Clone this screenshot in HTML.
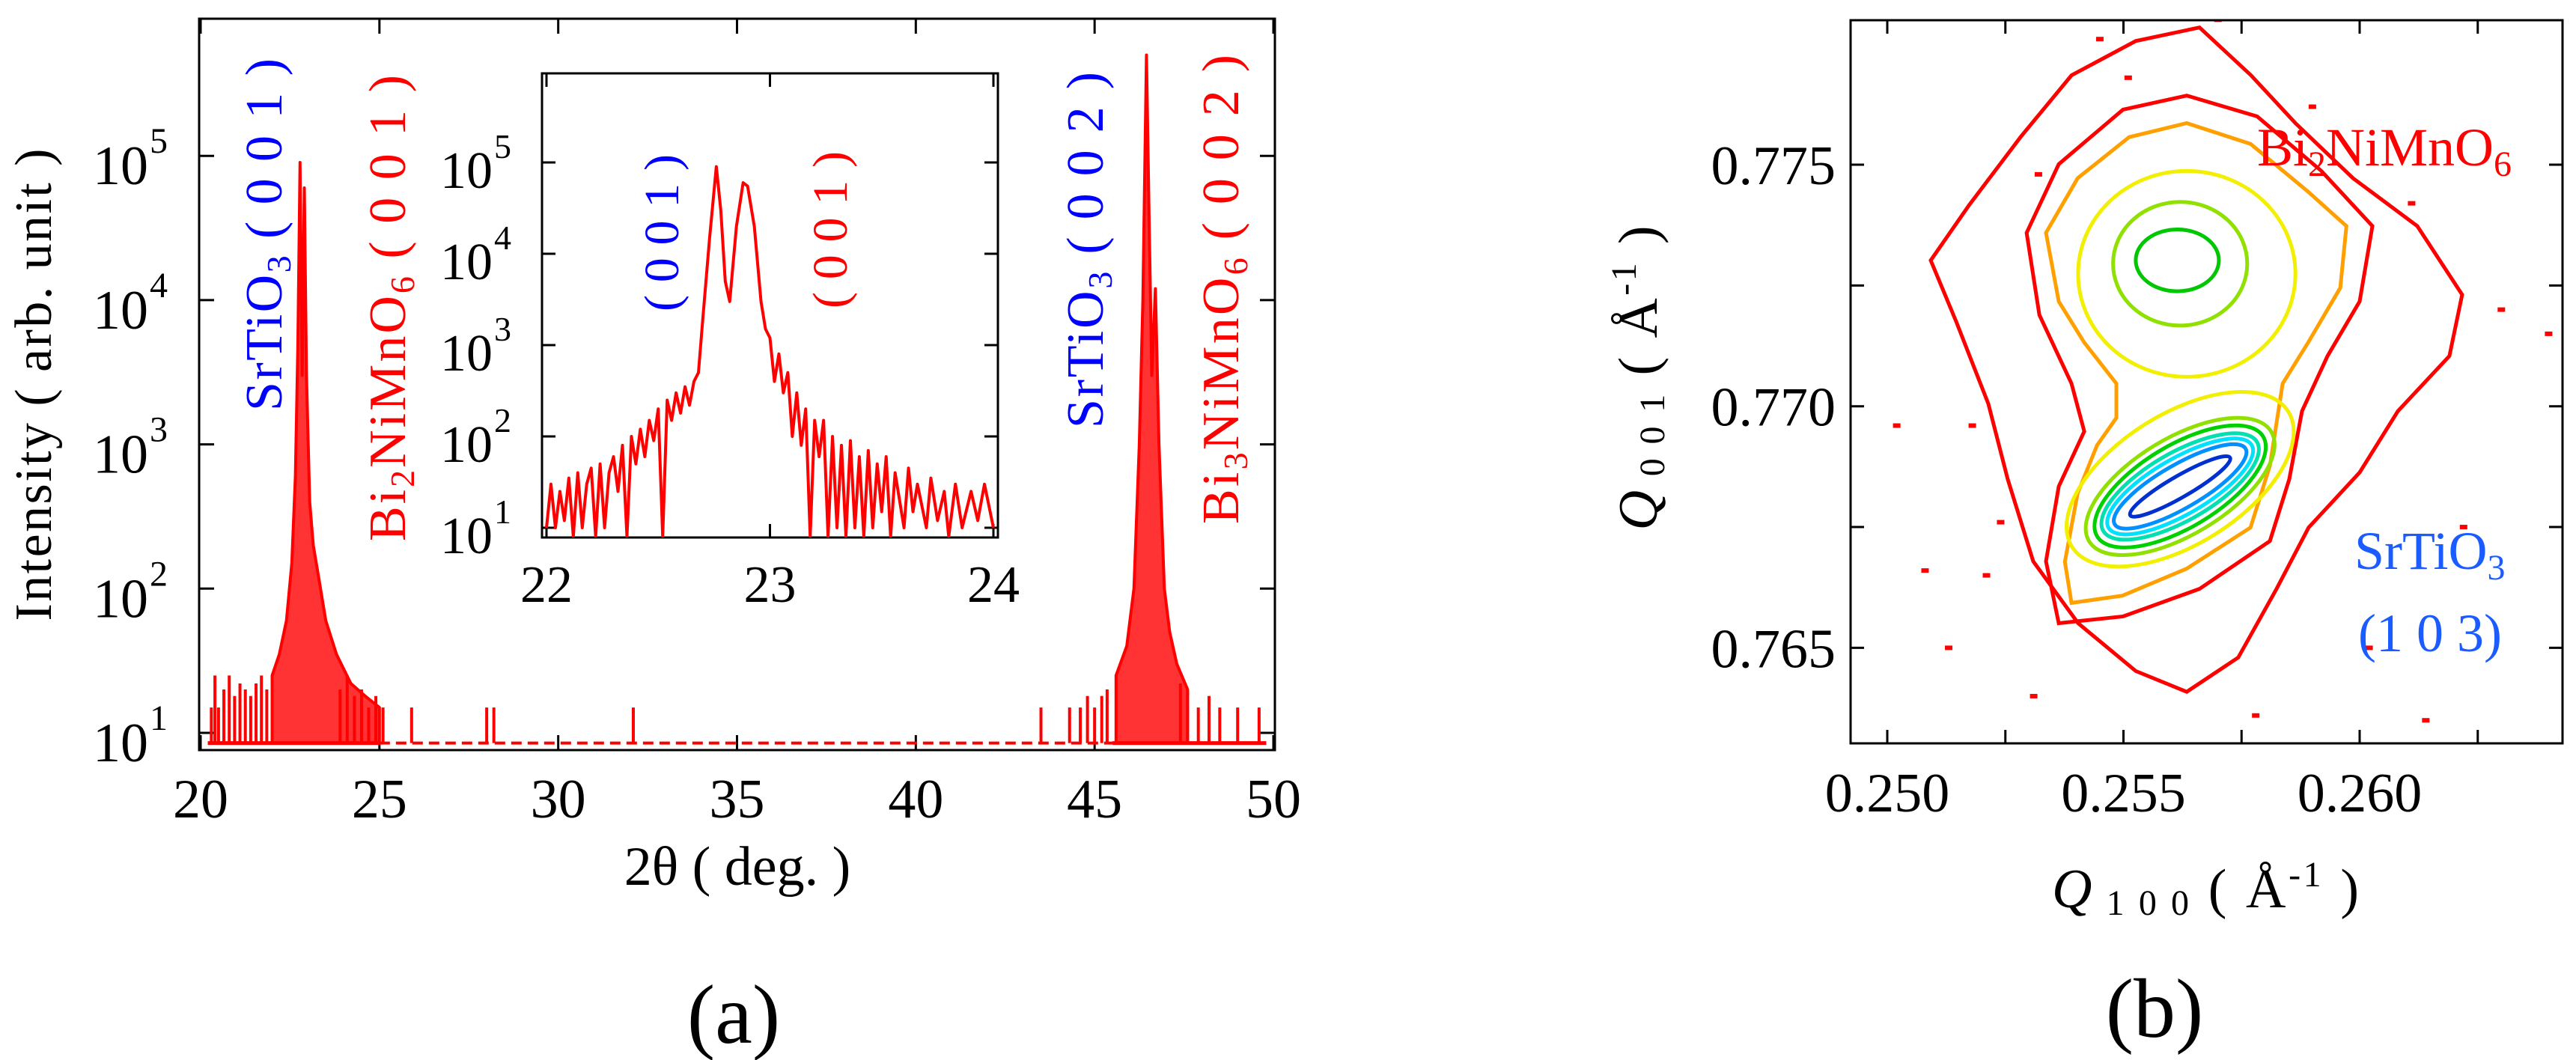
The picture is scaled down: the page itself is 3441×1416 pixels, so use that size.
<!DOCTYPE html>
<html><head><meta charset="utf-8"><style>
html,body{margin:0;padding:0;background:#fff;}
svg{display:block;font-family:"Liberation Serif",serif;}
</style></head><body>
<svg id="fig" width="3441" height="1416" viewBox="0 0 3441 1416" xmlns="http://www.w3.org/2000/svg">
<defs>
<clipPath id="clipA"><rect x="266" y="25" width="1437" height="977"/></clipPath>
<clipPath id="clipI"><rect x="724" y="98" width="609" height="620"/></clipPath>
<clipPath id="clipB"><rect x="2472" y="27" width="951" height="966"/></clipPath>
</defs>
<g id="panelA">
<rect x="266" y="25" width="1437" height="977" fill="none" stroke="#000" stroke-width="3"/>
<g id="aTicks"></g>
<g id="aData" clip-path="url(#clipA)"></g>
<text x="68" y="514" font-size="70" text-anchor="middle" textLength="631" lengthAdjust="spacing" transform="rotate(-90 68 514)">Intensity ( arb. unit )</text>
<text x="985" y="1182" font-size="74" text-anchor="middle">2θ ( deg. )</text>
<text x="980" y="1393" font-size="112" text-anchor="middle">(a)</text>
<text x="376" y="549" font-size="70" fill="#0000ff" textLength="471" lengthAdjust="spacing" transform="rotate(-90 376 549)">SrTiO<tspan font-size="46" dy="12">3</tspan><tspan dy="-12"> ( 0 0 1 )</tspan></text>
<text x="541" y="723" font-size="70" fill="#ff0000" textLength="623" lengthAdjust="spacing" transform="rotate(-90 541 723)">Bi<tspan font-size="46" dy="12">2</tspan><tspan dy="-12">NiMnO</tspan><tspan font-size="46" dy="12">6</tspan><tspan dy="-12"> ( 0 0 1 )</tspan></text>
<text x="1473" y="572" font-size="70" fill="#0000ff" textLength="476" lengthAdjust="spacing" transform="rotate(-90 1473 572)">SrTiO<tspan font-size="46" dy="12">3</tspan><tspan dy="-12"> ( 0 0 2 )</tspan></text>
<text x="1654" y="700" font-size="70" fill="#ff0000" textLength="627" lengthAdjust="spacing" transform="rotate(-90 1654 700)">Bi<tspan font-size="46" dy="12">3</tspan><tspan dy="-12">NiMnO</tspan><tspan font-size="46" dy="12">6</tspan><tspan dy="-12"> ( 0 0 2 )</tspan></text>
<g>
<rect x="724" y="98" width="609" height="620" fill="#fff" stroke="#000" stroke-width="3"/>
<g id="iTicks"></g>
<g id="iData" clip-path="url(#clipI)"></g>
<text x="906" y="416" font-size="66" fill="#0000ff" textLength="210" lengthAdjust="spacing" transform="rotate(-90 906 416)">( 0 0 1 )</text>
<text x="1131" y="412" font-size="66" fill="#ff0000" textLength="210" lengthAdjust="spacing" transform="rotate(-90 1131 412)">( 0 0 1 )</text>
</g>
</g>
<g id="panelB">
<g id="bData" clip-path="url(#clipB)"></g>
<rect x="2472" y="27" width="951" height="966" fill="none" stroke="#000" stroke-width="3"/>
<g id="bTicks"></g>
<text x="2213" y="505" font-size="74" text-anchor="middle" textLength="407" lengthAdjust="spacing" transform="rotate(-90 2213 505)"><tspan font-style="italic">Q</tspan><tspan font-size="48" dy="10"> 0 0 1</tspan><tspan dy="-10"> ( Å</tspan><tspan font-size="48" dy="-28">-1</tspan><tspan dy="28"> )</tspan></text>
<text x="2946" y="1212" font-size="74" text-anchor="middle" textLength="410" lengthAdjust="spacing"><tspan font-style="italic">Q</tspan><tspan font-size="48" dy="10"> 1 0 0</tspan><tspan dy="-10"> ( Å</tspan><tspan font-size="48" dy="-28">-1</tspan><tspan dy="28"> )</tspan></text>
<text x="2878" y="1385" font-size="112" text-anchor="middle">(b)</text>
<text x="3015" y="221" font-size="72" fill="#ff0000">Bi<tspan font-size="48" dy="14">2</tspan><tspan dy="-14">NiMnO</tspan><tspan font-size="48" dy="14">6</tspan></text>
<text x="3145" y="760" font-size="72" fill="#1a5cff">SrTiO<tspan font-size="48" dy="14">3</tspan></text>
<text x="3150" y="870" font-size="72" fill="#1a5cff">(1 0 3)</text>
</g>
</svg>
<script>
// ---------- Panel (a) data ----------
const peak1X=[22.0,22.2,22.4,22.55,22.65,22.72,22.78,22.84,22.9,22.96,23.05,23.15,23.3,23.5,23.8,24.2,24.6,25.0];
const peak1I=[25,35,60,150,600,5000,90000,3000,60000,3000,400,200,120,60,35,22,18,15];
const peak2X=[45.6,45.9,46.1,46.25,46.35,46.45,46.53,46.6,46.7,46.8,46.95,47.1,47.3,47.6];
const peak2I=[25,40,100,1000,10000,500000,30000,3000,12000,1000,100,50,30,20];
const spikeX=[20.3,20.4,20.5,20.65,20.8,20.95,21.1,21.25,21.4,21.55,21.7,21.85,23.9,24.1,24.3,24.5,24.7,24.9,25.1,25.9,28.0,28.2,32.1,43.5,44.3,44.6,44.8,45.0,45.2,45.35,47.4,47.6,47.9,48.2,48.5,49.0,49.6];
const spikeI=[15,25,15,20,25,18,22,20,18,22,25,20,20,25,18,20,15,18,15,15,15,15,15,15,15,15,18,15,18,20,22,20,15,18,15,15,15];
const baseI=8.5;
const decades=[1,2,3,4,5];
const xTicksA=[20,25,30,35,40,45,50];
// inset
const insetX=[22.0,22.02,22.04,22.06,22.08,22.1,22.12,22.14,22.16,22.18,22.2,22.22,22.24,22.26,22.28,22.3,22.32,22.34,22.36,22.38,22.4,22.42,22.44,22.46,22.48,22.5,22.52,22.54,22.56,22.58,22.6,22.62,22.64,22.66,22.68,22.7,22.73,22.76,22.78,22.8,22.82,22.85,22.88,22.9,22.93,22.96,22.98,23.0,23.02,23.04,23.06,23.08,23.1,23.12,23.14,23.16,23.18,23.2,23.22,23.24,23.26,23.28,23.3,23.32,23.34,23.36,23.38,23.4,23.42,23.44,23.46,23.48,23.5,23.52,23.54,23.56,23.6,23.62,23.64,23.66,23.7,23.72,23.75,23.78,23.8,23.83,23.86,23.9,23.93,23.96,24.0];
const insetI=[10,30,10,25,12,35,8,40,10,30,45,8,50,10,40,60,25,80,8,100,50,120,60,150,90,200,8,250,150,300,180,350,220,400,500,2000,15000,90000,30000,5000,3000,20000,60000,55000,20000,3000,1500,1200,400,800,300,500,100,300,80,200,8,150,60,150,8,100,10,80,8,90,10,60,8,70,10,50,15,60,8,40,10,45,15,30,10,35,12,25,8,30,10,25,12,30,10];
const insetXT=[22,23,24];
// ---------- Panel (b) data ----------
const bXTicks=[0.250,0.2525,0.255,0.2575,0.260,0.2625];
const bXLabels=["0.250","","0.255","","0.260",""];
const bYTicks=[0.765,0.7675,0.770,0.7725,0.775];
const bYLabels=["0.765","","0.770","","0.775"];
const redOuterX=[0.25092,0.25173,0.25282,0.25390,0.25526,0.25661,0.25770,0.25864,0.25986,0.26122,0.26217,0.26190,0.26081,0.26000,0.25892,0.25824,0.25743,0.25634,0.25526,0.25404,0.25309,0.25255,0.25214,0.25146];
const redOuterY=[0.77302,0.77416,0.77557,0.77685,0.77756,0.77784,0.77685,0.77586,0.77472,0.77373,0.77231,0.77104,0.76990,0.76863,0.76749,0.76622,0.76480,0.76409,0.76452,0.76551,0.76679,0.76849,0.77005,0.77175];
const redInnerX=[0.25295,0.25363,0.25499,0.25634,0.25783,0.25919,0.26027,0.26000,0.25932,0.25878,0.25851,0.25810,0.25661,0.25499,0.25363,0.25336,0.25363,0.25417,0.25390,0.25322];
const redInnerY=[0.77359,0.77501,0.77614,0.77643,0.77600,0.77487,0.77373,0.77217,0.77104,0.76990,0.76849,0.76721,0.76622,0.76565,0.76551,0.76679,0.76834,0.76948,0.77047,0.77189];
const orangeX=[0.25336,0.25403,0.25512,0.25634,0.25769,0.25891,0.25972,0.25959,0.25891,0.25837,0.25810,0.25769,0.25634,0.25498,0.25390,0.25376,0.25403,0.25444,0.25485,0.25485,0.25417,0.25363];
const orangeY=[0.77359,0.77472,0.77557,0.77586,0.77543,0.77444,0.77373,0.77245,0.77132,0.77047,0.76877,0.76749,0.76664,0.76608,0.76593,0.76678,0.76820,0.76919,0.76976,0.77047,0.77132,0.77217];
const ellCX=[0.25634,0.25620,0.25614,0.25620,0.25620,0.25620,0.25620,0.25620,0.25620,0.25620];
const ellCY=[0.77274,0.77295,0.77302,0.76849,0.76834,0.76834,0.76834,0.76834,0.76834,0.76834];
const ellRA=[0.00230,0.00142,0.00088,0.00270,0.00225,0.00205,0.00188,0.00175,0.00160,0.00122];
const ellRB=[0.00213,0.00128,0.00064,0.00135,0.00100,0.00085,0.00070,0.00058,0.00045,0.00022];
const ellRot=[0,0,0,-32,-31,-31,-30,-30,-30,-30];
const ellCol=["#f2f000","#90e000","#00c800","#f2f000","#90e000","#00d000","#00e0b0","#00e0ff","#0090ff","#0030d0"];
const specksX=[0.2502,0.2508,0.2513,0.2518,0.2521,0.2524,0.2531,0.2578,0.2602,0.2614,0.2622,0.2630,0.2640,0.2611,0.2590,0.2545,0.2551,0.2570,0.2532];
const specksY=[0.7696,0.7666,0.7650,0.7696,0.7665,0.7676,0.7640,0.7636,0.7650,0.7635,0.7675,0.7720,0.7715,0.7742,0.7762,0.7776,0.7768,0.7780,0.7748];

const NS="http://www.w3.org/2000/svg";
function mk(tag,attrs,parent){const e=document.createElementNS(NS,tag);for(const k in attrs)e.setAttribute(k,attrs[k]);parent.appendChild(e);return e;}
const xA=v=>268+(v-20)*(1701-268)/30;
const yA=I=>979-(Math.log10(I)-1)*192.7;
const xI=v=>730+(v-22)*(1327-730)/2;
const yI=I=>705-(Math.log10(I)-1)*122;
const xB=q=>2521+(q-0.25)*63100;
const yB=q=>220-(q-0.775)*64540;

const aT=document.getElementById('aTicks');
xTicksA.forEach(v=>{
  const x=xA(v);
  const t1=mk('line',{x1:x,y1:1002,x2:x,y2:982,stroke:'#000','stroke-width':3},aT);
  
  
  const t2=mk('line',{x1:x,y1:25,x2:x,y2:45,stroke:'#000','stroke-width':3},aT);
  
  
  const lb=mk('text',{x:x,y:1092,'font-size':74,'text-anchor':'middle'},aT);
  lb.textContent=v;
  
  
});
decades.forEach(d=>{
  const y=yA(Math.pow(10,d));
  const t1=mk('line',{x1:266,y1:y,x2:286,y2:y,stroke:'#000','stroke-width':3},aT);
  
  
  const t2=mk('line',{x1:1703,y1:y,x2:1683,y2:y,stroke:'#000','stroke-width':3},aT);
  
  
  const lb=mk('text',{x:198,y:y+38,'font-size':74,'text-anchor':'end'},aT);
  lb.textContent='10';
  
  
  const sp=mk('text',{x:200,y:y-4,'font-size':48},aT);
  sp.textContent=d;
  
  
});
const aD=document.getElementById('aData');
function peakPoly(xs,is,name){
  let pts=xA(xs[0])+','+yA(baseI)+' ';
  xs.forEach((v,i)=>{pts+=xA(v)+','+yA(is[i])+' ';});
  pts+=xA(xs[xs.length-1])+','+yA(baseI);
  const p=mk('polygon',{points:pts,fill:'#ff0000','fill-opacity':0.8,stroke:'#ff0000','stroke-width':4,'stroke-linejoin':'round'},aD);
  
  
}
peakPoly(peak1X,peak1I,'peak-001');
peakPoly(peak2X,peak2I,'peak-002');
const bl1=mk('line',{x1:xA(20.2),y1:yA(baseI),x2:xA(25),y2:yA(baseI),stroke:'#ff0000','stroke-width':5},aD);


const bl2=mk('line',{x1:xA(25),y1:yA(baseI),x2:xA(45.5),y2:yA(baseI),stroke:'#ff0000','stroke-width':4,'stroke-dasharray':'14 8'},aD);


const bl3=mk('line',{x1:xA(45.5),y1:yA(baseI),x2:xA(49.8),y2:yA(baseI),stroke:'#ff0000','stroke-width':5},aD);


spikeX.forEach((v,i)=>{
  const s=mk('line',{x1:xA(v),y1:yA(baseI),x2:xA(v),y2:yA(spikeI[i]),stroke:'#ff0000','stroke-width':4},aD);
  
  
});
const iT=document.getElementById('iTicks');
insetXT.forEach(v=>{
  const x=xI(v);
  const t1=mk('line',{x1:x,y1:718,x2:x,y2:700,stroke:'#000','stroke-width':3},iT);
  
  
  const t2=mk('line',{x1:x,y1:98,x2:x,y2:116,stroke:'#000','stroke-width':3},iT);
  
  
  const lb=mk('text',{x:x,y:804,'font-size':70,'text-anchor':'middle'},iT);
  lb.textContent=v;
  
  
});
decades.forEach(d=>{
  const y=yI(Math.pow(10,d));
  const t1=mk('line',{x1:724,y1:y,x2:742,y2:y,stroke:'#000','stroke-width':3},iT);
  
  
  const t2=mk('line',{x1:1333,y1:y,x2:1315,y2:y,stroke:'#000','stroke-width':3},iT);
  
  
  const lb=mk('text',{x:658,y:y+34,'font-size':70,'text-anchor':'end'},iT);
  lb.textContent='10';
  
  
  const sp=mk('text',{x:660,y:y-6,'font-size':46},iT);
  sp.textContent=d;
  
  
});
const iD=document.getElementById('iData');
const ip=mk('polyline',{points:insetX.map((v,i)=>xI(v)+','+yI(insetI[i])).join(' '),fill:'none',stroke:'#ff0000','stroke-width':4,'stroke-linejoin':'round'},iD);


const bT=document.getElementById('bTicks');
bXTicks.forEach((v,i)=>{
  const x=xB(v);
  const t1=mk('line',{x1:x,y1:993,x2:x,y2:975,stroke:'#000','stroke-width':3},bT);
  
  
  const t2=mk('line',{x1:x,y1:27,x2:x,y2:45,stroke:'#000','stroke-width':3},bT);
  
  
  if(bXLabels[i]){
    const lb=mk('text',{x:x,y:1084,'font-size':74,'text-anchor':'middle'},bT);
    lb.textContent=bXLabels[i];
    
    
  }
});
bYTicks.forEach((v,i)=>{
  const y=yB(v);
  const t1=mk('line',{x1:2472,y1:y,x2:2490,y2:y,stroke:'#000','stroke-width':3},bT);
  
  
  const t2=mk('line',{x1:3423,y1:y,x2:3405,y2:y,stroke:'#000','stroke-width':3},bT);
  
  
  if(bYLabels[i]){
    const lb=mk('text',{x:2452,y:y+26,'font-size':74,'text-anchor':'end'},bT);
    lb.textContent=bYLabels[i];
    
    
  }
});
const bD=document.getElementById('bData');
function ring(xs,ys,col,name,w){
  const p=mk('polygon',{points:xs.map((v,i)=>xB(v)+','+yB(ys[i])).join(' '),fill:'none',stroke:col,'stroke-width':w,'stroke-linejoin':'miter'},bD);
  
  
}
ring(redOuterX,redOuterY,'#ff0000','contour-red-outer',5);
ring(redInnerX,redInnerY,'#ff0000','contour-red-inner',5);
ring(orangeX,orangeY,'#ffa000','contour-orange',5);
ellCX.forEach((c,i)=>{
  const cx=xB(c),cy=yB(ellCY[i]);
  const e=mk('ellipse',{cx:cx,cy:cy,rx:ellRA[i]*63100,ry:ellRB[i]*64540,fill:'none',stroke:ellCol[i],'stroke-width':5,transform:'rotate('+ellRot[i]+' '+cx+' '+cy+')'},bD);
  
  
});
specksX.forEach((v,i)=>{
  const s=mk('rect',{x:xB(v)-5,y:yB(specksY[i])-3,width:10,height:6,fill:'#ff0000'},bD);
  
  
});
</script>
</body></html>
